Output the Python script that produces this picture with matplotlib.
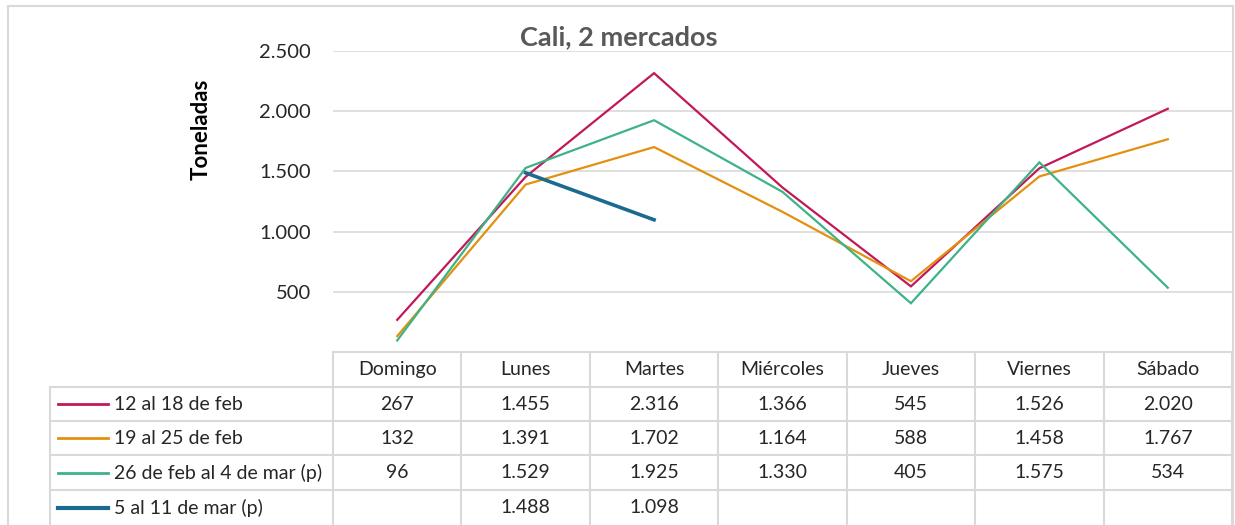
import matplotlib
matplotlib.use("Agg")
import matplotlib.pyplot as plt
from matplotlib.lines import Line2D
import numpy as np

plt.rcParams['font.family'] = ['Lato', 'DejaVu Sans']

days = ["Domingo", "Lunes", "Martes", "Miércoles", "Jueves", "Viernes", "Sábado"]
series_names = ["12 al 18 de feb", "19 al 25 de feb", "26 de feb al 4 de mar (p)", "5 al 11 de mar (p)"]
s1 = [267, 1455, 2316, 1366, 545, 1526, 2020]
s2 = [132, 1391, 1702, 1164, 588, 1458, 1767]
s3 = [96, 1529, 1925, 1330, 405, 1575, 534]
s4 = [None, 1488, 1098, None, None, None, None]
series = [s1, s2, s3, s4]
colors = ["#C2185B", "#E3900E", "#3DB386", "#1B6A8F"]
widths = [1.6, 1.6, 1.6, 2.6]
yticks = [500, 1000, 1500, 2000, 2500]
title = "Cali, 2 mercados"
ylabel = "Toneladas"

W, H = 1235, 525
fig = plt.figure(figsize=(W / 100, H / 100), dpi=100)

def fx(x):
    return x / W

def fy(y):
    return 1 - y / H

# plot area
x0, x1 = 333, 1232
ytop, ybot = 51, 352
ax = fig.add_axes([fx(x0), fy(ybot), fx(x1) - fx(x0), fy(ytop) - fy(ybot)])
ax.set_xlim(-0.5, len(days) - 0.5)
ax.set_ylim(0, 2500)
for sp in ax.spines.values():
    sp.set_visible(False)
ax.set_xticks([])
ax.set_yticks(yticks)
ax.set_yticklabels([f"{v:,}".replace(",", ".") for v in yticks], fontsize=14.5, color="#262626")
ax.tick_params(axis='y', length=0, pad=16)
ax.grid(axis='y', color="#D9D9D9", linewidth=1.2)
ax.set_axisbelow(True)

xs = np.arange(len(days))
for vals, c, lw in zip(series, colors, widths):
    y = np.array([np.nan if v is None else v for v in vals], dtype=float)
    ax.plot(xs, y, color=c, linewidth=lw, clip_on=False, solid_joinstyle='miter')

# title and ylabel
fig.text(fx(619), fy(37), title, ha='center', va='center', fontsize=19.5,
         fontweight='bold', color="#595959")
fig.text(fx(201), fy(129), ylabel, ha='center', va='center', rotation=90,
         fontsize=16, fontweight='bold', color="#000000")

# outer border
fig.add_artist(plt.Rectangle((fx(8), fy(530)), fx(1233) - fx(8), fy(6) - fy(530),
                             transform=fig.transFigure, fill=False,
                             edgecolor="#D9D9D9", linewidth=1.5))

# data table
gc = "#D9D9D9"
col_w = (x1 - x0) / len(days)
row_edges = [352, 387, 421, 455, 490, 525]
tl = 50

def hline(y, xa, xb):
    fig.add_artist(Line2D([fx(xa), fx(xb)], [fy(y), fy(y)], transform=fig.transFigure,
                          color=gc, linewidth=1.5))

def vline(x, ya, yb):
    fig.add_artist(Line2D([fx(x), fx(x)], [fy(ya), fy(yb)], transform=fig.transFigure,
                          color=gc, linewidth=1.5))

hline(row_edges[0], x0, x1)
for y in row_edges[1:-1]:
    hline(y, tl, x1)
vline(tl, row_edges[1], row_edges[-1])
for i in range(len(days) + 1):
    vline(x0 + i * col_w, row_edges[0], row_edges[-1])

def fmt(v):
    return "" if v is None else f"{v:,}".replace(",", ".")

fs = 14
for i, d in enumerate(days):
    cx = x0 + (i + 0.5) * col_w
    fig.text(fx(cx), fy((row_edges[0] + row_edges[1]) / 2), d, ha='center', va='center',
             fontsize=fs, color="#262626")
for r, (name, vals, c, lw) in enumerate(zip(series_names, series, colors, widths)):
    cy = (row_edges[r + 1] + row_edges[r + 2]) / 2
    fig.add_artist(Line2D([fx(58), fx(108)], [fy(cy), fy(cy)], transform=fig.transFigure,
                          color=c, linewidth=lw + 0.4))
    fig.text(fx(114), fy(cy), name, ha='left', va='center', fontsize=fs, color="#262626")
    for i, v in enumerate(vals):
        cx = x0 + (i + 0.5) * col_w
        fig.text(fx(cx), fy(cy), fmt(v), ha='center', va='center', fontsize=fs,
                 color="#262626")

fig.savefig("out.png", dpi=100)
